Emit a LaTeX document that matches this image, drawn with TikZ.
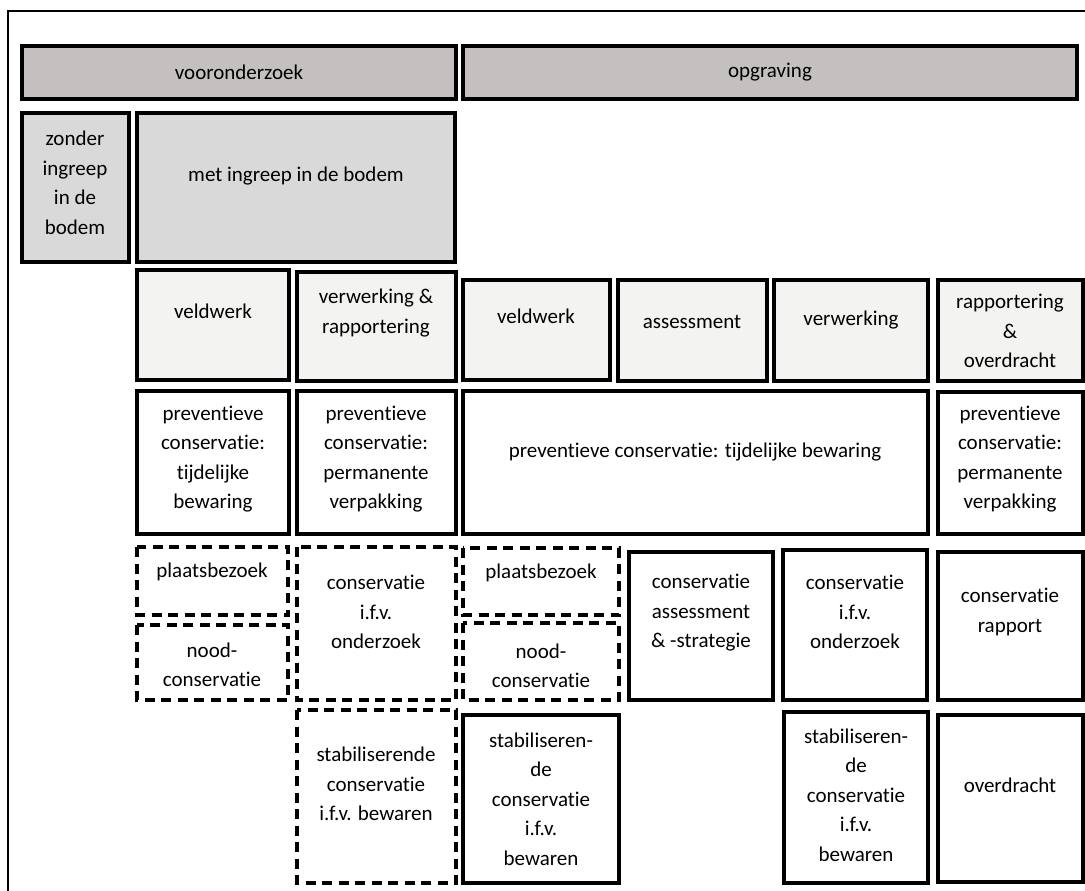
\documentclass[tikz,border=0pt]{standalone}
\usepackage{fontspec}
\setmainfont{Carlito}[Ligatures=NoCommon]
\newcommand{\lbl}{\fontsize{21}{29.5}\selectfont}
\definecolor{hdrgray}{RGB}{195,192,191}
\definecolor{midgray}{RGB}{217,217,217}
\definecolor{lightgray}{RGB}{243,243,242}

\begin{document}
\begin{tikzpicture}[x=1pt, y=-1pt,
  box/.style={line width=3.6pt},
  dbox/.style={line width=3.6pt, dash pattern=on 10pt off 6.5pt},
  txt/.style={align=center, font=\lbl, inner sep=0pt}]
\useasboundingbox (0,0) rectangle (1085,891);
\draw[line width=2.5pt] (8,900) -- (8,11) -- (1095,11);

% headers
\draw[box, fill=hdrgray] (22,46) rectangle (456,99);
\draw[box, fill=hdrgray] (463,46) rectangle (1077,99);
\path (239,72) node[txt] (voor) {vooronderzoek};
\path (770,72) node[txt] (opgr) {opgraving};

\draw[box, fill=midgray] (22,113) rectangle (129,262);
\draw[box, fill=midgray] (137,113) rectangle (455,262);
\path (75,183) node[txt] (zonder) {zonder\\ingreep\\in de\\bodem};
\path (296,176) node[txt] (met) {met ingreep in de bodem};

% fasen
\draw[box, fill=lightgray] (137,270) rectangle (289,380);
\draw[box, fill=lightgray] (297,272) rectangle (456,381);
\draw[box, fill=lightgray] (463,280) rectangle (610,380);
\draw[box, fill=lightgray] (618,280) rectangle (767,381);
\draw[box, fill=lightgray] (774,280) rectangle (928,381);
\draw[box, fill=lightgray] (938,280) rectangle (1083,381);
\path (213,311) node[txt] (veld1) {veldwerk};
\path (376,313) node[txt] (verw1) {verwerking \&\\rapportering};
\path (536,316) node[txt] (veld2) {veldwerk};
\path (692,322) node[txt] (assess) {assessment};
\path (851,320) node[txt] (verw2) {verwerking};
\path (1010,331) node[txt] (rapp) {rapportering\\\&\\overdracht};

% preventieve conservatie
\draw[box] (137,391) rectangle (289,534);
\draw[box] (297,391) rectangle (456,534);
\draw[box] (463,391) rectangle (928,534);
\draw[box] (938,392) rectangle (1083,534);
\path (213,459) node[txt] (prev1) {preventieve\\conservatie:\\tijdelijke\\bewaring};
\path (376,459) node[txt] (prev2) {preventieve\\conservatie:\\permanente\\verpakking};
\path (695,452) node[txt] (prev3) {preventieve conservatie: tijdelijke bewaring};
\path (1010,459) node[txt] (prev4) {preventieve\\conservatie:\\permanente\\verpakking};

% conservatie
\draw[dbox] (137,547) rectangle (288,615);
\draw[dbox] (137,625) rectangle (288,700);
\draw[dbox] (297,547) rectangle (456,700);
\draw[dbox] (463,548) rectangle (619,615);
\draw[dbox] (463,623) rectangle (619,700);
\draw[box] (629,552) rectangle (773,700);
\draw[box] (783,550) rectangle (927,700);
\draw[box] (938,552) rectangle (1083,700);
\path (212,572) node[txt] (plaats1) {plaatsbezoek};
\path (212,665) node[txt] (nood1) {nood-\\conservatie};
\path (376,612) node[txt] (ifvo1) {conservatie\\i.f.v.\\onderzoek};
\path (541,573) node[txt] (plaats2) {plaatsbezoek};
\path (541,666) node[txt] (nood2) {nood-\\conservatie};
\path (701,613) node[txt] (strat) {conservatie\\assessment\\\& -strategie};
\path (855,612) node[txt] (ifvo2) {conservatie\\i.f.v.\\onderzoek};
\path (1010,612) node[txt] (crapp) {conservatie\\rapport};

% bewaren
\draw[dbox] (297,710) rectangle (456,883);
\draw[box] (463,715) rectangle (619,883);
\draw[box] (784,712) rectangle (928,883);
\draw[box] (938,715) rectangle (1083,882);
\path (376,784) node[txt] (stab1) {stabiliserende\\conservatie\\i.f.v. bewaren};
\path (541,799) node[txt] (stab2) {stabiliseren-\\de\\conservatie\\i.f.v.\\bewaren};
\path (856,795) node[txt] (stab3) {stabiliseren-\\de\\conservatie\\i.f.v.\\bewaren};
\path (1010,785) node[txt] (overdr) {overdracht};
\end{tikzpicture}
\end{document}
